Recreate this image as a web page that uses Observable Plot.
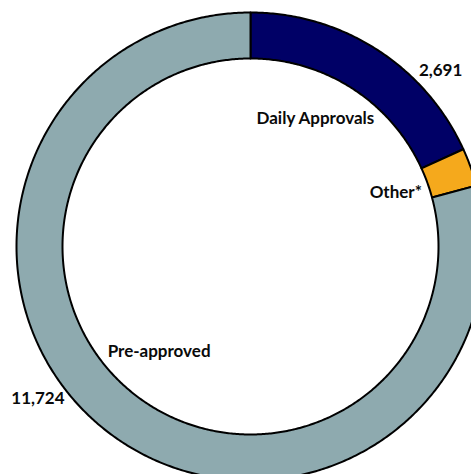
<!DOCTYPE html>
<html>
<head>
<meta charset="utf-8">
<script src="https://cdn.jsdelivr.net/npm/d3@7"></script>
<script src="https://cdn.jsdelivr.net/npm/@observablehq/plot@0.6"></script>
<style>
  html, body { margin: 0; padding: 0; background: #fff; }
  #chart svg { overflow: hidden; display: block; }
</style>
</head>
<body>
<div id="chart"></div>
<script>
// ---- data ----
const categories = ["Daily Approvals", "Other*", "Pre-approved"];
const values = [2691, 390, 11724];
const colors = ["#000066", "#f5a91c", "#8eaaaf"];

// ---- geometry (donut in unit coordinates; outer radius = 1) ----
const W = 471, H = 474;
const cx = 250, cy = 246, R = 234;
const inner = 188 / 234;

const pie = d3.pie().sort(null).value(d => d.value);
const slices = pie(categories.map((c, i) => ({cat: c, value: values[i]})));

const pts = [];
for (const s of slices) {
  const a0 = s.startAngle, a1 = s.endAngle;
  const n = Math.max(2, Math.ceil((a1 - a0) / (Math.PI / 360)));
  const ring = [];
  for (let k = 0; k <= n; k++) {
    const a = a0 + (a1 - a0) * k / n;
    ring.push({cat: s.data.cat, x: Math.sin(a), y: Math.cos(a)});
  }
  for (let k = n; k >= 0; k--) {
    const a = a0 + (a1 - a0) * k / n;
    ring.push({cat: s.data.cat, x: inner * Math.sin(a), y: inner * Math.cos(a)});
  }
  ring.push({...ring[0]});
  pts.push(...ring);
}

function mid(s, r) {
  const a = (s.startAngle + s.endAngle) / 2;
  return {x: r * Math.sin(a), y: r * Math.cos(a), cat: s.data.cat, value: s.data.value};
}
const fmt = d3.format(",");

const labelStyle = {fontFamily: "Lato, 'Open Sans', sans-serif", fontWeight: "bold", fontSize: 17, fill: "#0a0a0a", textAnchor: "middle"};

const chart = Plot.plot({
  width: W,
  height: H,
  margin: 0,
  x: {domain: [-cx / R, (W - cx) / R], axis: null},
  y: {domain: [-(H - cy) / R, cy / R], axis: null},
  color: {domain: categories, range: colors},
  style: {background: "#fff", overflow: "hidden"},
  marks: [
    Plot.line(pts, {x: "x", y: "y", z: "cat", fill: "cat", stroke: "#000", strokeWidth: 2, clip: true}),
    // category labels (inside ring)
    Plot.text([mid(slices[0], 0.6)], {x: "x", y: "y", text: "cat", dx: -11, dy: -10, ...labelStyle}),
    Plot.text([mid(slices[1], 0.66)], {x: "x", y: "y", text: "cat", dx: 0, dy: -2, ...labelStyle}),
    Plot.text([mid(slices[2], 0.6)], {x: "x", y: "y", text: "cat", dx: -6, dy: -6, ...labelStyle}),
    // value labels (outside ring)
    Plot.text([mid(slices[0], 1.1)], {x: "x", y: "y", text: d => fmt(d.value), dx: 51, dy: 41, ...labelStyle}),
    Plot.text([mid(slices[2], 1.1)], {x: "x", y: "y", text: d => fmt(d.value), dx: -56, dy: -52, ...labelStyle})
  ]
});
document.getElementById("chart").append(chart);
</script>
</body>
</html>
